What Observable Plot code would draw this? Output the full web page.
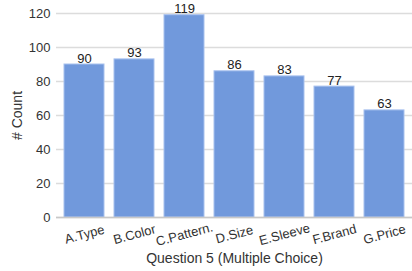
<!DOCTYPE html>
<html>
<head>
<meta charset="utf-8">
<script src="https://cdn.jsdelivr.net/npm/d3@7"></script>
<script src="https://cdn.jsdelivr.net/npm/@observablehq/plot@0.6"></script>
<style>
  html, body { margin: 0; padding: 0; background: #fff; }
  #chart { width: 412px; height: 271px; }
</style>
</head>
<body>
<div id="chart"></div>
<script>
const categories = ["A.Type", "B.Color", "C.Pattern.", "D.Size", "E.Sleeve", "F.Brand", "G.Price"];
const counts = [90, 93, 119, 86, 83, 77, 63];
const yTicks = [0, 20, 40, 60, 80, 100, 120];

const data = categories.map((c, i) => ({category: c, count: counts[i]}));

const chart = Plot.plot({
  width: 412,
  height: 271,
  marginLeft: 56,
  marginRight: 0,
  marginTop: 13,
  marginBottom: 54,
  style: {fontFamily: "Liberation Sans, Arial, sans-serif", fontSize: "12px", color: "#333", background: "#fff"},
  x: {domain: categories, paddingInner: 0.2, paddingOuter: 0.1, label: null},
  y: {domain: [0, 120], label: null},
  marks: [
    Plot.gridY(yTicks, {stroke: "#dcdcdc", strokeOpacity: 1, strokeWidth: 1.5}),
    Plot.axisY(yTicks, {tickSize: 0, tickPadding: 6, fontSize: 13, fill: "#333", label: null}),
    Plot.barY(data, {x: "category", y: "count", fill: "#7199dc", stroke: "#a8c1ee", strokeWidth: 1}),
    Plot.ruleY([0], {stroke: "#c8c8c8", strokeWidth: 1.5}),
    Plot.text(data, {x: "category", y: "count", text: d => String(d.count), lineAnchor: "bottom", dy: -2, fontSize: 13, fill: "#222"}),
    Plot.axisX({tickSize: 0, ticks: categories, text: null, label: null}),
    Plot.text(categories, {x: d => d, frameAnchor: "bottom", dy: 17, rotate: -15, textAnchor: "middle", lineAnchor: "middle", fontSize: 13, fill: "#333"}),
    Plot.text(["Question 5 (Multiple Choice)"], {frameAnchor: "bottom", dy: 41, lineAnchor: "middle", fontSize: 14, fill: "#333"}),
    Plot.text(["# Count"], {frameAnchor: "left", dx: -39, rotate: -90, lineAnchor: "middle", textAnchor: "middle", fontSize: 14, fill: "#333"})
  ]
});
document.getElementById("chart").appendChild(chart);
</script>
</body>
</html>
